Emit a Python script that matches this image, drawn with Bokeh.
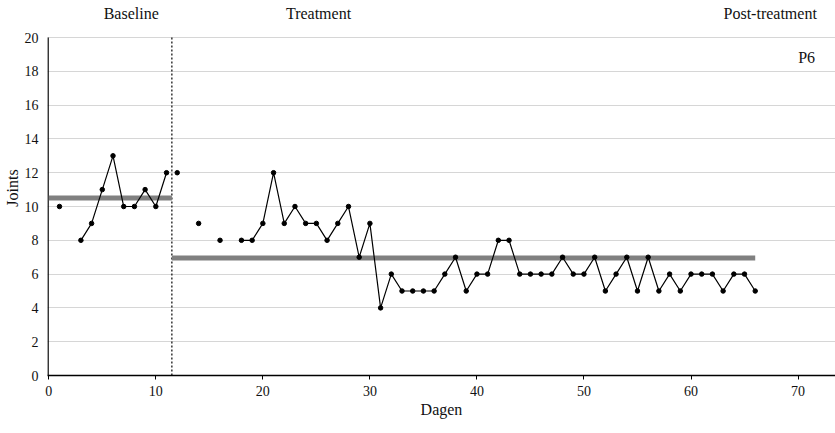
import math
from bokeh.plotting import figure
from bokeh.models import Range1d, Label, FixedTicker
from bokeh.embed import file_html
from bokeh.resources import INLINE

# ---- data ----
baseline_days = [1, 3, 4, 5, 6, 7, 8, 9, 10, 11]
baseline_vals = [10, 8, 9, 11, 13, 10, 10, 11, 10, 12]
treatment_days = [12, 14, 16] + list(range(18, 67))
treatment_vals = [12, 9, 8,
                  8, 8, 9, 12, 9, 10, 9, 9, 8, 9, 10, 7, 9,
                  4, 6, 5, 5, 5, 5, 6, 7, 5, 6, 6, 8, 8, 6, 6, 6, 6, 7,
                  6, 6, 7, 5, 6, 7, 5, 7, 5, 6, 5, 6, 6, 6, 5, 6, 6, 5]
baseline_mean = 10.5
treatment_mean = 6.95
phase_change = 11.5
treatment_end = 66
phase_labels = ["Baseline", "Treatment", "Post-treatment"]
participant = "P6"
x_ticks = [0, 10, 20, 30, 40, 50, 60, 70]
y_ticks = [0, 2, 4, 6, 8, 10, 12, 14, 16, 18, 20]
y_top = 20

FONT = "Liberation Serif"


def broken(days, vals):
    xs, ys = [], []
    prev = None
    for d, v in zip(days, vals):
        if prev is not None and d - prev > 1:
            xs.append(float("nan"))
            ys.append(float("nan"))
        xs.append(d)
        ys.append(v)
        prev = d
    return xs, ys


p = figure(width=835, height=433, output_backend="svg", toolbar_location=None,
           x_range=Range1d(-0.12, 73.5), y_range=Range1d(0, 22.19),
           min_border_left=47, min_border_right=0, min_border_top=0,
           min_border_bottom=58)
p.outline_line_color = None
p.background_fill_color = "white"
p.border_fill_color = "white"

p.xgrid.grid_line_color = None
p.ygrid.grid_line_color = "#d6d6d6"
p.ygrid.grid_line_width = 1.2
p.yaxis.ticker = FixedTicker(ticks=y_ticks)
p.xaxis.ticker = FixedTicker(ticks=x_ticks)

for ax in (p.xaxis[0], p.yaxis[0]):
    ax.axis_line_color = "black"
    ax.axis_line_width = 1.5
    ax.minor_tick_line_color = None
    ax.major_label_text_font = FONT
    ax.major_label_text_font_size = "14px"
    ax.major_label_text_color = "#111111"
    ax.axis_label_text_font = FONT
    ax.axis_label_text_font_size = "16px"
    ax.axis_label_text_font_style = "normal"
    ax.axis_label_text_color = "#111111"

p.yaxis.axis_line_color = None
p.yaxis.major_tick_line_color = None
p.yaxis.major_tick_out = 0
p.yaxis.major_label_standoff = 9
p.yaxis.axis_label = "Joints"
p.yaxis.axis_label_standoff = 1
p.xaxis.major_tick_out = 4
p.xaxis.major_tick_in = 0
p.xaxis.major_tick_line_color = "black"
p.xaxis.major_label_standoff = 6
p.xaxis.axis_label = "Dagen"
p.xaxis.axis_label_standoff = 2

# left axis line (only up to 20)
p.segment(x0=[-0.07], y0=[0], x1=[-0.07], y1=[y_top],
          line_color="black", line_width=1.5)

# phase change line
p.segment(x0=[phase_change], y0=[0], x1=[phase_change], y1=[y_top],
          line_color="black", line_width=1.2, line_dash="2 2")

# mean lines
p.segment(x0=[0, phase_change], y0=[baseline_mean, treatment_mean],
          x1=[phase_change, treatment_end], y1=[baseline_mean, treatment_mean],
          line_color="#808080", line_width=5)

# data
bx, by = broken(baseline_days, baseline_vals)
tx, ty = broken(treatment_days, treatment_vals)
p.line(bx, by, line_color="black", line_width=1.2)
p.line(tx, ty, line_color="black", line_width=1.2)
p.scatter(baseline_days, baseline_vals, size=4.5, color="black")
p.scatter(treatment_days, treatment_vals, size=4.5, color="black")

# texts
for txt, xd in zip(phase_labels, [7.7, 25.2, 67.4]):
    p.add_layout(Label(x=xd, y=21.42, text=txt, text_align="center",
                       text_baseline="middle", text_font=FONT,
                       text_font_size="16px", text_color="#111111"))
p.add_layout(Label(x=70.8, y=18.8, text=participant, text_align="center",
                   text_baseline="middle", text_font=FONT,
                   text_font_size="16px", text_color="#111111"))

open("out.html", "w").write(file_html(p, INLINE))
